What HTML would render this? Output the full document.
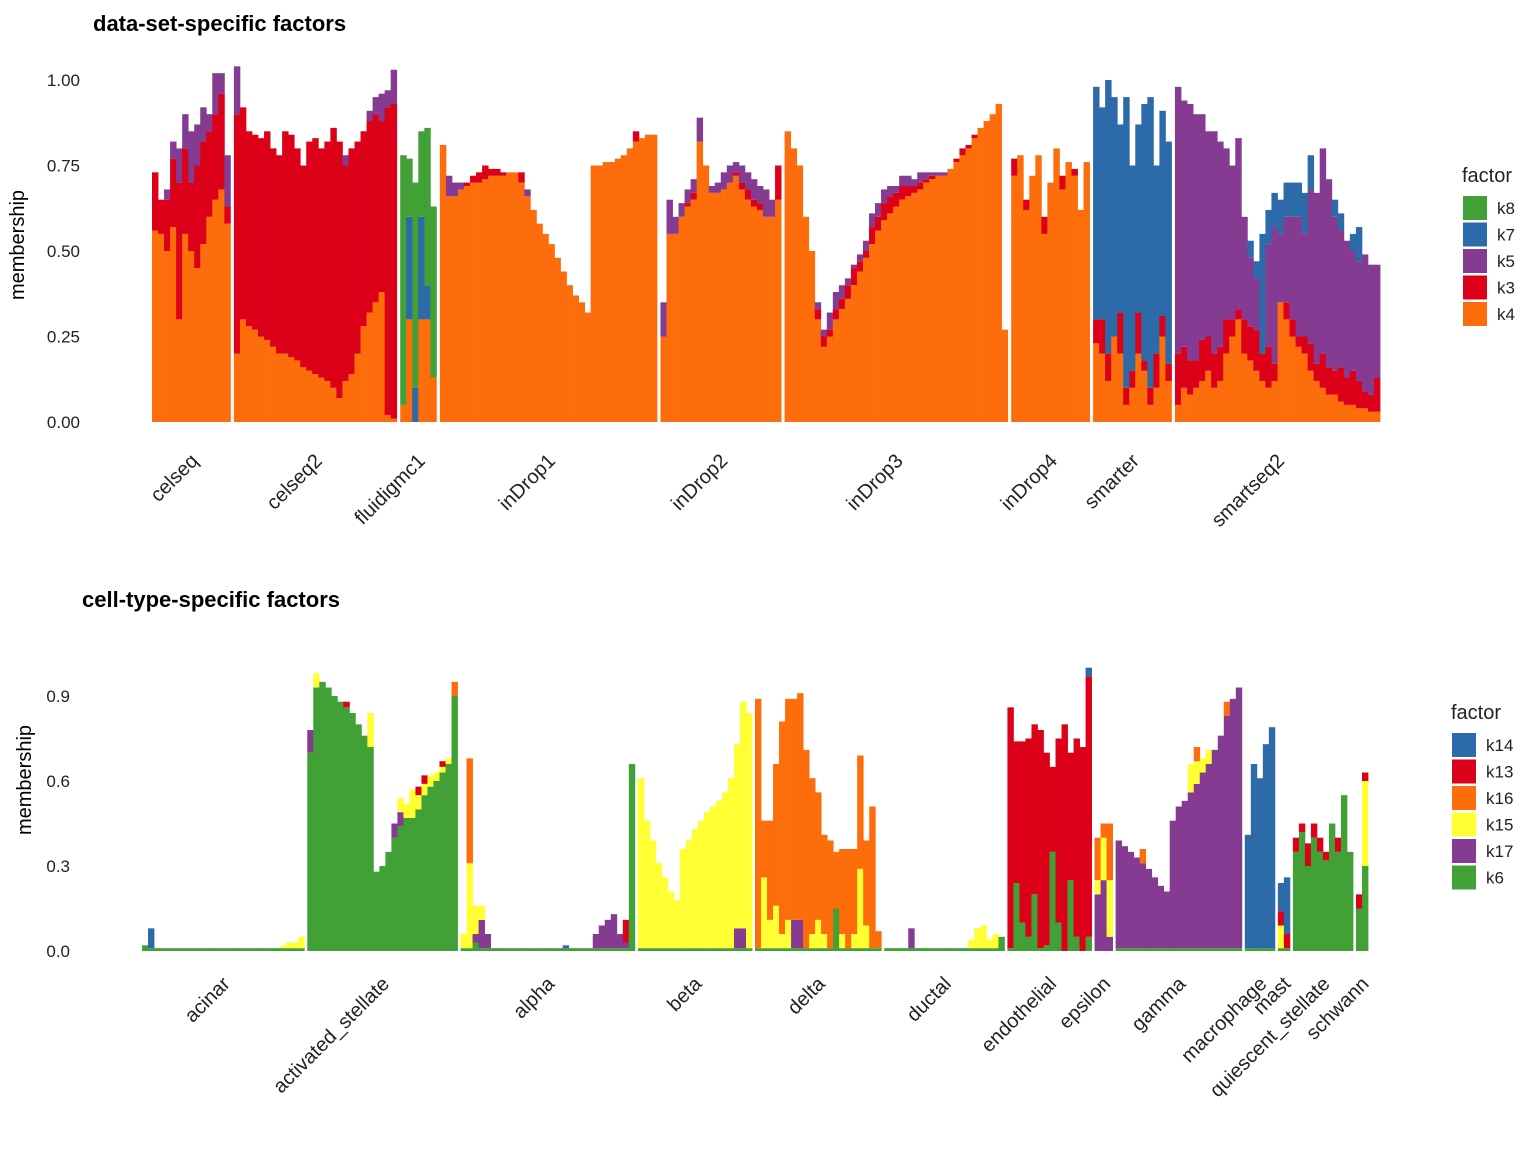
<!DOCTYPE html>
<html><head><meta charset="utf-8"><style>
body{margin:0;background:#fff;font-family:"Liberation Sans",Arial,sans-serif}
svg text{font-family:"Liberation Sans",Arial,sans-serif}
</style></head><body>
<svg id="chart" width="1536" height="1152" viewBox="0 0 1536 1152" xmlns="http://www.w3.org/2000/svg">
<rect width="1536" height="1152" fill="#fff"/>
<text x="93" y="31" font-size="22" font-weight="bold">data-set-specific factors</text>
<text x="82" y="607" font-size="22" font-weight="bold">cell-type-specific factors</text>
<g id="top"></g>
<g id="bot"></g>
</svg>
<script>
const topFactors=["k4","k3","k5","k7","k8"];
const topColors=["#fd6d0c","#dc0019","#843b91","#2c6aa9","#41a036"];
const topLegendOrder=["k8","k7","k5","k3","k4"];
const topTicks=[0,0.25,0.5,0.75,1.0];
const topTickLabels=["0.00","0.25","0.50","0.75","1.00"];
const topGroups=["celseq","celseq2","fluidigmc1","inDrop1","inDrop2","inDrop3","inDrop4","smarter","smartseq2"];
const topCounts=[13,27,6,36,20,37,13,13,34];
const topData={
celseq:{k4:[.56,.55,.5,.57,.3,.55,.5,.45,.52,.6,.65,.68,.58],k3:[.17,.1,.15,.2,.4,.25,.2,.3,.3,.25,.25,.28,.05],k5:[0,0,.03,.05,.1,.1,.15,.12,.1,.05,.12,.06,.15]},
celseq2:{k4:[.2,.3,.28,.27,.25,.24,.22,.2,.2,.19,.18,.16,.15,.14,.13,.12,.1,.07,.12,.14,.2,.28,.32,.35,.38,.02,.01],k3:[.7,.62,.57,.57,.58,.61,.58,.58,.65,.65,.62,.59,.67,.69,.67,.7,.76,.75,.63,.66,.62,.57,.56,.55,.5,.9,.92],k5:[.14,0,0,0,0,0,0,0,0,0,0,0,0,0,0,0,0,0,.03,0,0,0,.03,.05,.08,.05,.1]},
fluidigmc1:{k4:[.05,.3,0,.3,.3,.13],k7:[0,.3,.1,.3,.1,0],k8:[.73,.17,.6,.25,.46,.5]},
inDrop1:{k4:[.81,.66,.66,.68,.69,.7,.7,.71,.72,.72,.72,.73,.73,.7,.66,.62,.58,.55,.52,.48,.44,.4,.37,.35,.32,.75,.75,.76,.76,.77,.78,.8,.82,.83,.84,.84],k3:[0,0,0,0,.01,.02,.03,.04,.02,.02,.01,0,0,.03,0,0,0,0,0,0,0,0,0,0,0,0,0,0,0,0,0,0,.03,0,0,0],k5:[0,.06,.04,.02,0,0,0,0,0,0,0,0,0,0,.02]},
inDrop2:{k4:[.25,.55,.55,.6,.63,.65,.82,.75,.67,.67,.68,.7,.72,.68,.65,.63,.62,.6,.6,.65],k3:[0,0,0,0,.01,.02,0,0,0,0,0,0,.01,.02,.03,.02,.02,0,0,.1],k5:[.1,.1,.05,.04,.04,.04,.07,0,.02,.03,.05,.05,.03,.05,.05,.06,.05,.08,.05,0]},
inDrop3:{k4:[.85,.8,.75,.6,.5,.3,.22,.25,.3,.33,.36,.4,.44,.48,.52,.56,.59,.61,.63,.65,.66,.67,.68,.7,.71,.72,.72,.74,.76,.78,.8,.83,.86,.88,.9,.93,.27],k3:[0,0,0,0,0,.03,.03,.02,.03,.03,.04,.05,.03,.02,.05,.04,.05,.05,.04,.04,.03,.02,.02,.01,.01,0,0,0,.01,.02,.01,.01],k5:[0,0,0,0,0,.02,.02,.05,.05,.04,.02,.01,.02,.03,.04,.04,.04,.03,.02,.03,.03,.02,.03,.02,.01,.01,.01]},
inDrop4:{k4:[.72,.78,.62,.72,.78,.55,.7,.8,.68,.76,.72,.62,.76],k3:[.05,0,.03,0,0,.05,0,0,.04,0,.02,0,0]},
smarter:{k4:[.23,.2,.12,.25,.2,.05,.1,.2,.15,.05,.1,.25,.12],k3:[.07,.1,.08,0,.12,.05,.05,.12,.03,.05,.1,.06,.05],k7:[.68,.62,.8,.7,.55,.85,.6,.55,.75,.85,.55,.6,.65]},
smartseq2:{k4:[.05,.1,.08,.1,.12,.15,.1,.12,.2,.25,.3,.2,.18,.15,.12,.1,.12,.35,.3,.25,.22,.2,.15,.12,.1,.08,.08,.06,.05,.05,.04,.04,.03,.03],k3:[.15,.12,.1,.08,.12,.1,.1,.1,.1,.05,.03,.1,.1,.12,.08,.12,.05,0,.05,.05,.03,.05,.08,.05,.1,.08,.07,.1,.08,.1,.08,.05,.05,.1],k5:[.78,.72,.75,.72,.66,.6,.65,.6,.5,.45,.5,.3,.2,.15,0,.3,.4,.2,.25,.3,.35,.3,.45,.5,.6,.55,.45,.4,.4,.35,.35,.4,.38,.33],k7:[0,0,0,0,0,0,0,0,0,0,0,0,.05,.05,.35,.1,.1,.1,.1,.1,.1,.12,.1,0,0,0,.05,.05,0,.05,.1]}
};
const botFactors=["k6","k17","k15","k16","k13","k14"];
const botColors=["#41a036","#843b91","#ffff33","#fd6d0c","#dc0019","#2c6aa9"];
const botLegendOrder=["k14","k13","k16","k15","k17","k6"];
const botTicks=[0,0.3,0.6,0.9];
const botTickLabels=["0.0","0.3","0.6","0.9"];
const botGroups=["acinar","activated_stellate","alpha","beta","delta","ductal","endothelial","epsilon","gamma","macrophage","mast","quiescent_stellate","schwann"];
const botCounts=[27,25,29,19,21,20,14,3,21,5,2,10,2];
const botData={
acinar:{k6:[.02,.01,.01,.01,.01,.01,.01,.01,.01,.01,.01,.01,.01,.01,.01,.01,.01,.01,.01,.01,.01,.01,.01,.01,.01,.01,.01],k14:[0,.07],k15:[0,0,0,0,0,0,0,0,0,0,0,0,0,0,0,0,0,0,0,0,0,0,0,.01,.02,.02,.04]},
activated_stellate:{k6:[.7,.93,.95,.93,.9,.88,.86,.84,.8,.76,.72,.28,.3,.35,.4,.44,.47,.47,.5,.55,.58,.6,.63,.66,.9],k17:[.08,0,0,0,0,0,0,0,0,0,0,0,0,0,.05,.05],k15:[0,.05,0,0,0,0,0,0,0,0,.12,0,0,0,0,.05,.05,.1,.05,.04,.04,.03,.02,.02],k13:[0,0,0,0,0,0,.02,0,0,0,0,0,0,0,0,0,0,0,.03,.03,0,0,.02],k16:[0,0,0,0,0,0,0,0,0,0,0,0,0,0,0,0,0,0,0,0,0,0,0,0,.05]},
alpha:{k6:[.01,.01,.03,.01,.01,.01,.01,.01,.01,.01,.01,.01,.01,.01,.01,.01,.01,.01,.01,.01,.01,.01,.01,.01,.01,.01,.01,.01,.66],k15:[.05,.3,.1,.05],k16:[0,.37],k17:[0,0,.03,.1,.05,0,0,0,0,0,0,0,0,0,0,0,0,0,0,0,0,0,.05,.08,.1,.12,.05,.02],k14:[0,0,0,0,0,0,0,0,0,0,0,0,0,0,0,0,0,.01],k13:[0,0,0,0,0,0,0,0,0,0,0,0,0,0,0,0,0,0,0,0,0,0,0,0,0,0,0,.08]},
beta:{k6:[.01,.01,.01,.01,.01,.01,.01,.01,.01,.01,.01,.01,.01,.01,.01,.01,.01,.01,.01],k15:[.6,.45,.38,.3,.25,.2,.17,.35,.38,.42,.45,.48,.5,.52,.55,.6,.65,.8,.83],k17:[0,0,0,0,0,0,0,0,0,0,0,0,0,0,0,0,.07,.07]},
delta:{k6:[.01,.01,.01,.01,.01,.01,.01,.01,.01,.01,.01,.01,.01,.15,.01,.01,.01,.01,.01,.01,.01],k15:[0,.25,.1,.15,.05,.1,0,0,0,.05,.1,.05,0,0,.05,0,.05,.28,.08],k17:[0,0,0,0,0,0,.1,.1],k16:[.88,.2,.35,.5,.75,.78,.78,.8,.7,.55,.45,.35,.38,.2,.3,.35,.3,.4,.3,.5,.06]},
ductal:{k6:[.01,.01,.01,.01,.01,.01,.01,.01,.01,.01,.01,.01,.01,.01,.01,.01,.01,.01,.01,.05],k17:[0,0,0,0,.07],k15:[0,0,0,0,0,0,0,0,0,0,0,0,0,0,.03,.07,.08,.03,.05]},
endothelial:{k6:[.01,.24,.1,.05,.2,.01,.02,.35,.1,0,.25,.05,0,.05],k13:[.85,.5,.64,.7,.6,.77,.68,.3,.65,.8,.45,.7,.72,.92],k14:[0,0,0,0,0,0,0,0,0,0,0,0,0,.03]},
epsilon:{k17:[.2,.25,.05],k15:[.05,.15,.2],k16:[.15,.05,.2]},
gamma:{k6:[.01,.01,.01,.01,.01,.01,.01,.01,.01,.01,.01,.01,.01,.01,.01,.01,.01,.01,.01,.01,.01],k17:[.38,.36,.34,.32,.3,.28,.25,.22,.2,.45,.5,.52,.55,.58,.62,.65,.7,.75,.82,.88,.92],k15:[0,0,0,0,0,0,0,0,0,0,0,0,.1,.08,.05,.05],k16:[0,0,0,0,.05,0,0,0,0,0,0,0,0,.05,0,0,0,0,.05]},
macrophage:{k6:[.01,.01,.01,.01,.01],k14:[.4,.65,.6,.72,.78]},
mast:{k6:[.01,.01],k13:[.05,.05],k15:[.08,0],k14:[.1,.2]},
quiescent_stellate:{k6:[.35,.42,.3,.4,.35,.32,.45,.35,.55,.35],k13:[.05,.03,.08,.05,.05,.03,0,.05,0,0]},
schwann:{k6:[.15,.3],k15:[0,.3],k13:[.05,.03]}
};
const NS="http://www.w3.org/2000/svg";
function mk(tag,attrs,parent){const e=document.createElementNS(NS,tag);for(const k in attrs)e.setAttribute(k,attrs[k]);parent.appendChild(e);return e;}
function panel(gid,cfg){
  const g=document.getElementById(gid);
  const y=v=>cfg.y0-v*cfg.ppu;
  const total=cfg.counts.reduce((a,b)=>a+b,0);
  const bw=(cfg.x1-cfg.x0-cfg.gap*(cfg.counts.length-1))/total;
  cfg.ticks.forEach((t,i)=>{
    const tx=mk('text',{x:cfg.tickX,y:y(t)+6,'font-size':17,'text-anchor':'end',fill:'#222'},g);
    
    
    tx.textContent=cfg.tickLabels[i];
  });
  const yt=mk('text',{x:0,y:0,'font-size':20,'text-anchor':'middle',transform:`translate(${cfg.titleX},${cfg.titleY}) rotate(-90)`},g);
  
  
  yt.textContent='membership';
  let xpos=cfg.x0;
  cfg.groups.forEach((name,gi)=>{
    const n=cfg.counts[gi];const d=cfg.data[name];
    const gg=mk('g',{},g);
    
    
    for(let i=0;i<n;i++){
      let cum=0;
      cfg.factors.forEach((f,fi)=>{
        const v=(d[f]&&d[f][i])||0;
        if(v<=0)return;
        const r=mk('rect',{x:(xpos+i*bw).toFixed(2),y:y(cum+v).toFixed(2),width:(bw+0.4).toFixed(2),height:(v*cfg.ppu).toFixed(2),fill:cfg.colors[fi]},gg);
        
        
        cum+=v;
      });
    }
    const cx=xpos+n*bw/2;
    const lb=mk('text',{x:0,y:0,'font-size':20,'text-anchor':'end',fill:'#222',transform:`translate(${cx+8},${cfg.labelY}) rotate(-45)`},g);
    
    
    lb.textContent=name;
    xpos+=n*bw+cfg.gap;
  });
  const lt=mk('text',{x:cfg.legX,y:cfg.legY,'font-size':20,fill:'#222'},g);
  
  
  lt.textContent='factor';
  cfg.legendOrder.forEach((f,i)=>{
    const ci=cfg.factors.indexOf(f);
    const yy=cfg.legY+14+i*26.5;
    const r=mk('rect',{x:cfg.legX+1,y:yy,width:24,height:24,fill:cfg.colors[ci]},g);
    
    
    const t=mk('text',{x:cfg.legX+35,y:yy+18,'font-size':17,fill:'#222'},g);
    
    
    t.textContent=f;
  });
}
panel('top',{y0:422,ppu:342,x0:152,x1:1380,gap:3.5,counts:topCounts,groups:topGroups,data:topData,factors:topFactors,colors:topColors,ticks:topTicks,tickLabels:topTickLabels,tickX:80,titleX:24,titleY:245,labelY:462,legX:1462,legY:182,legendOrder:topLegendOrder});
panel('bot',{y0:951,ppu:283.3,x0:142,x1:1368,gap:3,counts:botCounts,groups:botGroups,data:botData,factors:botFactors,colors:botColors,ticks:botTicks,tickLabels:botTickLabels,tickX:70,titleX:31,titleY:780,labelY:985,legX:1451,legY:719,legendOrder:botLegendOrder});
</script>
</body></html>
